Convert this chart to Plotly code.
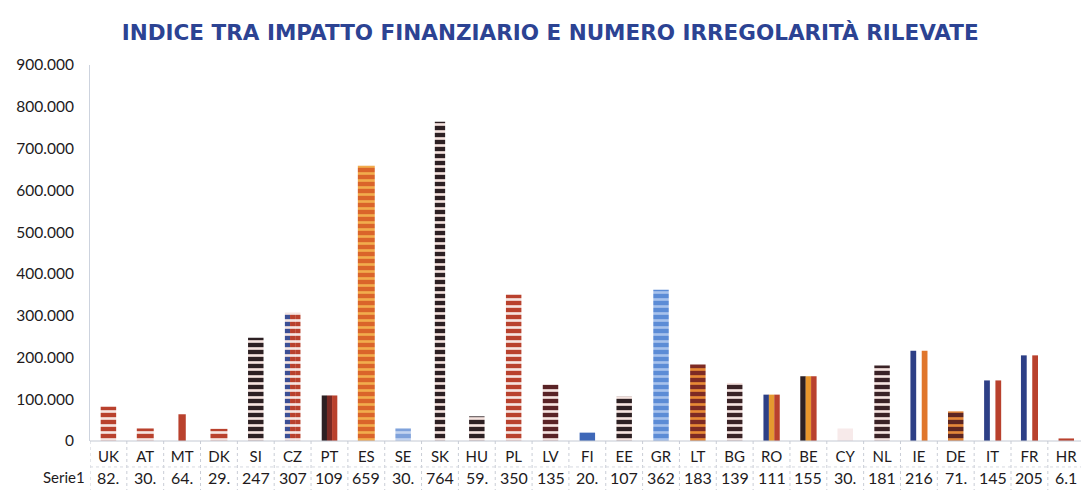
import plotly.graph_objects as go

# ---------------- data ----------------
countries = ["UK", "AT", "MT", "DK", "SI", "CZ", "PT", "ES", "SE", "SK", "HU", "PL", "LV", "FI",
             "EE", "GR", "LT", "BG", "RO", "BE", "CY", "NL", "IE", "DE", "IT", "FR", "HR"]
values = [82000, 30000, 64000, 29000, 247000, 307000, 109000, 659000, 30000, 764000, 59000,
          350000, 135000, 20000, 107000, 362000, 183000, 139000, 111000, 155000, 30000,
          181000, 216000, 71000, 145000, 205000, 6100]
series_name = "Serie1"
title_text = "INDICE TRA IMPATTO FINANZIARIO E NUMERO IRREGOLARITÀ RILEVATE"
y_ticks = [0, 100000, 200000, 300000, 400000, 500000, 600000, 700000, 800000, 900000]

# ---------------- styles (flag-like bars) ----------------
R = "#b9412d"; W = "#f6e4e0"; D = "#2d2023"; N = "#2d3f86"; O = "#e0762c"
# uniform striped/solid bars: (background, stripe colour or None)
uniform = {
    "UK": (R, W), "AT": (R, W), "MT": (R, None), "DK": (R, W), "SI": (D, W),
    "ES": ("#da642a", "#f2ac4c"), "SE": ("#7fa2db", "#c3d4f0"), "SK": (D, W), "HU": (D, W),
    "PL": (R, W), "LV": ("#5a2326", W), "FI": ("#3f68b8", None), "EE": (D, W),
    "GR": ("#5c8cd6", "#a7c2ec"), "LT": ("#7e2b24", "#e88a35"), "BG": ("#3a2326", W),
    "CY": ("#f7eaea", None), "NL": ("#3a2226", W), "DE": ("#5e2622", "#e4883a"),
    "HR": (R, None),
}
# vertical tricolour bars: three parts (left, mid, right), None = empty (white)
tricolour = {
    "CZ": [("#3b4f95", W), (R, W), (R, W)],
    "PT": [(D, None), ("#7a2a24", None), (R, None)],
    "RO": [(N, None), ("#e59a30", None), (R, None)],
    "BE": [(D, None), ("#e8962c", None), (R, None)],
    "IE": [(N, None), None, (O, None)],
    "IT": [(N, None), None, (R, None)],
    "FR": [(N, None), None, (R, None)],
}
bar_w = {"MT": 0.2, "SK": 0.28, "ES": 0.46, "AT": 0.46, "DK": 0.46, "IE": 0.46,
         "IT": 0.46, "FR": 0.46, "RO": 0.44, "BE": 0.44}


def add_bar(c, v, width, offset, bg, fg):
    fig.add_trace(go.Bar(
        x=[c], y=[v], width=[width], offset=[offset], name=series_name,
        marker=dict(color=bg, line=dict(width=0),
                    pattern=dict(shape="-" if fg else "", fgcolor=fg or bg, bgcolor=bg,
                                 size=7, solidity=0.38, fillmode="replace")),
        showlegend=False, hoverinfo="x+y",
    ))


fig = go.Figure()
for c, v in zip(countries, values):
    w = bar_w.get(c, 0.42)
    if c in uniform:
        bg, fg = uniform[c]
        add_bar(c, v, w, -w / 2, bg, fg)
    else:
        for part, spec in enumerate(tricolour[c]):
            if spec is None:
                continue
            add_bar(c, v, w / 3 + 0.003, -w / 2 + part * w / 3, spec[0], spec[1])

# ---------------- data table below the axis ----------------
font_main = "Lato, 'Open Sans', sans-serif"
row_y = -0.096
for i, (c, v) in enumerate(zip(countries, values)):
    txt = f"{v:,.0f}".replace(",", ".")[:3]
    fig.add_annotation(x=i, y=row_y, xref="x", yref="paper", text=txt, showarrow=False,
                       yanchor="middle", xanchor="center",
                       font=dict(family=font_main, size=16, color="#221a1c"))
fig.add_annotation(x=-0.003, y=row_y, xref="paper", yref="paper", xanchor="right",
                   yanchor="middle", text=series_name, showarrow=False,
                   font=dict(family=font_main, size=15, color="#221a1c"))

shapes = []
for i in range(len(countries) + 1):
    shapes.append(dict(type="line", xref="x", yref="paper", x0=i - 0.5, x1=i - 0.5,
                       y0=0, y1=-0.135, line=dict(color="#c9cdd6", width=1, dash="dot")))
shapes.append(dict(type="line", xref="paper", yref="paper", x0=0, x1=1, y0=-0.069, y1=-0.069,
                   line=dict(color="#d6d9e0", width=1, dash="dot")))
shapes.append(dict(type="line", xref="paper", yref="paper", x0=0, x1=1, y0=0, y1=0,
                   line=dict(color="#c4c9d3", width=1)))
fig.update_layout(shapes=shapes)

fig.update_layout(
    width=1081, height=490,
    margin=dict(l=90, r=0, t=65, b=49, autoexpand=False),
    paper_bgcolor="white", plot_bgcolor="white",
    barmode="overlay",
    separators=",.",
    title=dict(text=f"<b>{title_text}</b>", x=0.509, xanchor="center", y=0.933,
               yanchor="middle", xref="container", yref="container",
               font=dict(family="'DejaVu Sans', sans-serif", size=21.5, color="#2c4393")),
    xaxis=dict(range=[-0.5, 26.4], showgrid=False, showline=False, ticks="",
               automargin=False, ticklabelstandoff=5,
               tickfont=dict(family=font_main, size=15, color="#221a1c"),
               categoryorder="array", categoryarray=countries),
    yaxis=dict(range=[0, 900000], tickvals=y_ticks, tickformat=",", showgrid=False,
               zeroline=False, showline=True, linecolor="#cdd3de", linewidth=1,
               ticks="", ticklabelstandoff=12, automargin=False,
               tickfont=dict(family=font_main, size=15.5, color="#221a1c")),
)

fig.write_html("out.html", config={"displayModeBar": False},
               post_script="document.body.style.margin='0';")
